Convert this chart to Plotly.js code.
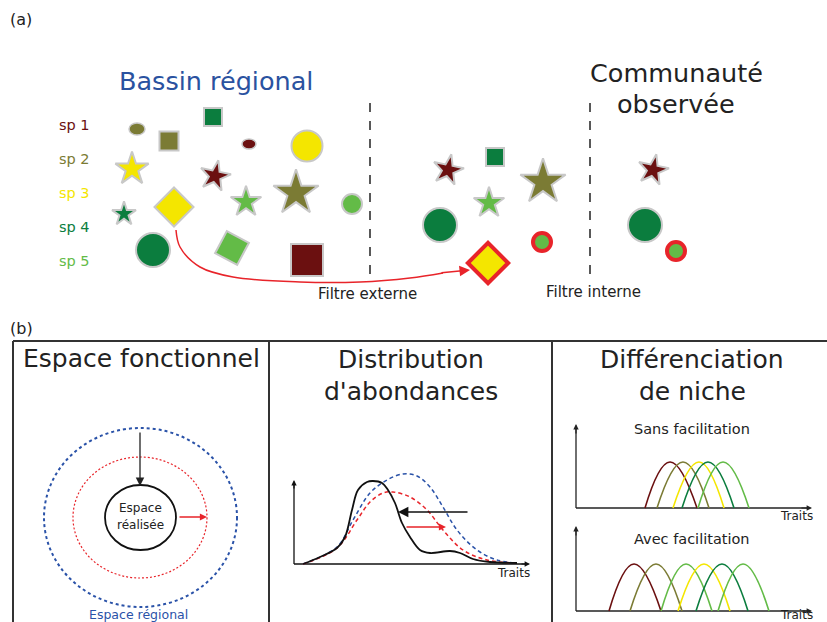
<!DOCTYPE html>
<html><head><meta charset="utf-8">
<script src="https://cdn.plot.ly/plotly-3.0.1.min.js"></script>
<style>html,body{margin:0;padding:0;background:#fff}#c{width:827px;height:622px}</style>
</head><body><div id="c"></div>
<script>
// ---------- data ----------
const speciesNames = ['sp 1','sp 2','sp 3','sp 4','sp 5'];
const speciesColors = ['#6b1010','#7b7b34','#f4e600','#0b7d3e','#63bb47'];
const legendY = [125, 159, 193, 227, 261];

// regional pool (markers)
const poolX    = [169, 213, 307, 132, 215, 246, 296, 352, 124, 174, 153, 232, 307];
const poolY    = [141, 117, 146, 169, 176, 202, 193, 204, 214, 207, 250, 248, 260];
const poolSp   = [1, 3, 2, 2, 0, 4, 1, 4, 3, 2, 3, 4, 0];
const poolSym  = ['square','square','circle','star','star','star','star','circle','star','diamond','circle','square','square'];
const poolSize = [19, 18, 31, 25, 23, 23, 34, 20, 18, 30, 34, 25, 32];
const poolAngle= [0, 0, 0, 0, 12, 0, 0, 0, 0, 0, 0, 28, 0];
// small ellipses in pool: [cx, cy, rx, ry]
const ellCx = [137, 249]; const ellCy = [129, 144]; const ellRx = [8, 7]; const ellRy = [6, 5]; const ellSp = [1, 0];

// after external filter
const midX    = [448, 495, 543, 489, 440];
const midY    = [170, 157, 182, 203, 225];
const midSp   = [0, 3, 1, 4, 3];
const midSym  = ['star','square','star','star','circle'];
const midSize = [23, 18, 34, 23, 34];
const midAngle= [12, 0, 0, 0, 0];
// excluded species (red outline)
const exX = [488, 542, 676]; const exY = [263, 242, 251]; const exSp = [2, 4, 4];
const exSym = ['diamond','circle','circle']; const exSize = [31, 18, 18];

// observed community
const obsX = [653, 645]; const obsY = [170, 225]; const obsSp = [0, 3];
const obsSym = ['star','circle']; const obsSize = [23, 34]; const obsAngle = [12, 0];

// red curved arrow path
const arrowPathX = [176, 180, 200, 233, 300, 360, 410, 443];
const arrowPathY = [230, 247, 267, 277, 282, 282, 278, 273];

// filter lines
const filterX = [370, 590];

// panel (b)2 abundance curves (pixel coords)
const obsCurveX = [303,320,337,345,352,358,367,373,382,388,395,402,410,420,430,450,460,473,490,517];
const obsCurveY = [564,557,548,537,510,490,482,481,483,490,503,523,537,550,553,551,553,559,562,563];
const regCurveX = [303,337,353,370,387,403,417,430,443,457,477,497,517];
const regCurveY = [564,547,520,493,480,474,476,487,507,530,550,560,563];
const facCurveX = [303,337,357,370,383,393,410,427,443,463,487,517];
const facCurveY = [564,548,520,502,493,492,497,510,530,550,560,563];

// niche curves: start, peak, end x ; colours by species
const nicheTopStart = [645, 657, 673, 682, 698];
const nicheTopPeak  = [670, 683, 699, 708, 723];
const nicheTopEnd   = [697, 709, 724, 734, 749];
const nicheTopSp    = [0, 1, 2, 3, 4];
const nicheBotStart = [609, 630, 661, 678, 696, 718];
const nicheBotPeak  = [634, 656, 686, 704, 722, 743];
const nicheBotEnd   = [661, 682, 712, 730, 748, 769];
const nicheBotSp    = [0, 1, 4, 2, 3, 4];

// ---------- build ----------
const FONT = 'DejaVu Sans, sans-serif';
const GRAY = '#c8c8c8';
const traces = [];
function markers(xs, ys, sps, syms, sizes, angles, lineColor, lineWidth){
  traces.push({type:'scatter', mode:'markers', x:xs, y:ys, hoverinfo:'skip',
    marker:{symbol:syms, size:sizes, angle:angles||0, opacity:1,
      color:sps.map(s=>speciesColors[s]), line:{color:lineColor, width:lineWidth}}});
}
markers(poolX, poolY, poolSp, poolSym, poolSize, poolAngle, GRAY, 2);
markers(midX, midY, midSp, midSym, midSize, midAngle, GRAY, 2);
markers(exX, exY, exSp, exSym, exSize, 0, '#e8242a', 4);
markers(obsX, obsY, obsSp, obsSym, obsSize, obsAngle, GRAY, 2);

traces.push({type:'scatter', mode:'lines', x:arrowPathX, y:arrowPathY, hoverinfo:'skip',
  line:{color:'#e8242a', width:1.5, shape:'spline', smoothing:1}});

traces.push({type:'scatter', mode:'lines', x:regCurveX, y:regCurveY, hoverinfo:'skip',
  line:{color:'#2a52a8', width:1.5, dash:'4px,3px', shape:'spline'}});
traces.push({type:'scatter', mode:'lines', x:facCurveX, y:facCurveY, hoverinfo:'skip',
  line:{color:'#e8242a', width:1.5, dash:'4px,3px', shape:'spline'}});
traces.push({type:'scatter', mode:'lines', x:obsCurveX, y:obsCurveY, hoverinfo:'skip',
  line:{color:'#111', width:1.8, shape:'spline'}});

function niche(st, pk, en, sp, base, peak){
  for(let i=0;i<st.length;i++){
    traces.push({type:'scatter', mode:'lines', x:[st[i], pk[i], en[i]], y:[base, peak, base], hoverinfo:'skip',
      line:{color:speciesColors[sp[i]], width:1.6, shape:'spline', smoothing:1.3}});
  }
}
niche(nicheTopStart, nicheTopPeak, nicheTopEnd, nicheTopSp, 508, 462);
niche(nicheBotStart, nicheBotPeak, nicheBotEnd, nicheBotSp, 611, 564);

const shapes = [];
for(let i=0;i<ellCx.length;i++){
  shapes.push({type:'circle', xref:'x', yref:'y', x0:ellCx[i]-ellRx[i], x1:ellCx[i]+ellRx[i],
    y0:ellCy[i]-ellRy[i], y1:ellCy[i]+ellRy[i], fillcolor:speciesColors[ellSp[i]], line:{color:GRAY, width:1.5}});
}
filterX.forEach(x=>shapes.push({type:'line', xref:'x', yref:'y', x0:x, x1:x, y0:103, y1:277, line:{color:'#222', width:1.5, dash:'dash'}}));
// panel frame
const LC = '#333';
shapes.push({type:'line', x0:13, x1:827, y0:341, y1:341, line:{color:LC, width:2}});
[13, 269, 552].forEach(x=>shapes.push({type:'line', x0:x, x1:x, y0:341, y1:622, line:{color:LC, width:2}}));
// functional space ellipses
shapes.push({type:'circle', x0:44, x1:237, y0:428, y1:607, line:{color:'#2a52a8', width:2, dash:'3px,3px'}});
shapes.push({type:'circle', x0:73, x1:207, y0:457, y1:578, line:{color:'#e8242a', width:1.2, dash:'2px,2px'}});
shapes.push({type:'circle', x0:105, x1:176, y0:485, y1:550, line:{color:'#111', width:1.8}});
// axes lines for small plots
shapes.push({type:'line', x0:294, x1:294, y0:564, y1:482, line:{color:'#111', width:1.3}});
shapes.push({type:'line', x0:294, x1:527, y0:564, y1:564, line:{color:'#111', width:1.3}});
[[508,427],[611,529]].forEach(([b,t])=>{
  shapes.push({type:'line', x0:576, x1:576, y0:b, y1:t, line:{color:'#222', width:1.3}});
  shapes.push({type:'line', x0:576, x1:810, y0:b, y1:b, line:{color:'#222', width:1.3}});
});
shapes.forEach(s=>{ if(!s.xref){s.xref='x'; s.yref='y';} s.layer = s.layer||'below'; });

const ann = [];
function txt(x, y, t, size, color, anchor){
  ann.push({x:x, y:y, xref:'x', yref:'y', text:t, showarrow:false, font:{family:FONT, size:size, color:color||'#222'},
    xanchor:anchor||'center', yanchor:'middle'});
}
function arrow(x0, y0, x1, y1, color, w, head, hs){
  ann.push({x:x1, y:y1, ax:x0, ay:y0, xref:'x', yref:'y', axref:'x', ayref:'y', text:'', showarrow:true,
    arrowhead:head||2, arrowsize:hs||1, arrowwidth:w||1.3, arrowcolor:color, standoff:0});
}
txt(8, 19, '(a)', 16, '#222', 'left');
txt(8, 328, '(b)', 16, '#222', 'left');
speciesNames.forEach((n,i)=>txt(57, legendY[i], n, 14.5, speciesColors[i], 'left'));
txt(216, 81, 'Bassin régional', 25.5, '#2a52a0');
txt(676, 73, 'Communauté', 25.5, '#222');
txt(676, 104, 'observée', 25.5, '#222');
txt(367, 294, 'Filtre externe', 15, '#222');
txt(593, 292, 'Filtre interne', 15, '#222');
txt(141, 358, 'Espace fonctionnel', 25, '#222');
txt(411, 359, 'Distribution', 25, '#222');
txt(411, 391, "d'abondances", 25, '#222');
txt(692, 359, 'Différenciation', 25, '#222');
txt(692, 391, 'de niche', 25, '#222');
txt(140, 508, 'Espace', 12, '#222');
txt(140, 525, 'réalisée', 12, '#222');
txt(138, 614, 'Espace régional', 12.5, '#2a52a8');
txt(513, 573, 'Traits', 12, '#222');
txt(692, 429, 'Sans facilitation', 14.5, '#222');
txt(796, 516, 'Traits', 12, '#222');
txt(692, 539, 'Avec facilitation', 14.5, '#222');
txt(796, 615, 'Traits', 12, '#222');

arrow(440, 273, 470, 270, '#e8242a', 1.5, 2, 1.4);
arrow(140, 431, 140, 486, '#222', 1.3, 2, 1.3);
arrow(178, 517, 207, 517, '#e8242a', 1.3, 2, 1.1);
arrow(469, 512, 398, 512, '#111', 1.3, 2, 1.6);
arrow(405, 527, 446, 527, '#e8242a', 1.3, 2, 1.1);
arrow(294, 490, 294, 480, '#111', 1.2, 2, 0.9);
arrow(520, 564, 530, 564, '#111', 1.2, 2, 0.9);
arrow(576, 435, 576, 424, '#222', 1.2, 2, 0.9);
arrow(800, 508, 812, 508, '#222', 1.2, 2, 0.9);
arrow(576, 537, 576, 526, '#222', 1.2, 2, 0.9);
arrow(800, 611, 812, 611, '#222', 1.2, 2, 0.9);

const layout = {
  width:827, height:622, margin:{l:0,r:0,t:0,b:0}, showlegend:false,
  paper_bgcolor:'#fff', plot_bgcolor:'#fff',
  xaxis:{range:[0,827], visible:false, fixedrange:true},
  yaxis:{range:[622,0], visible:false, fixedrange:true},
  shapes:shapes, annotations:ann, font:{family:FONT}
};
Plotly.newPlot('c', traces, layout, {staticPlot:true, displayModeBar:false});
</script></body></html>
